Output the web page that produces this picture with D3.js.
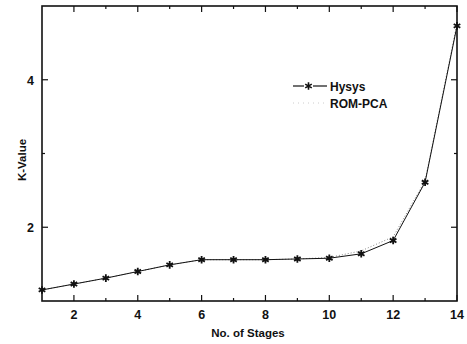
<!DOCTYPE html>
<html>
<head>
<meta charset="utf-8">
<script src="https://cdn.jsdelivr.net/npm/d3@7"></script>
<style>
  body { margin: 0; background: #fff; }
  text { font-family: "Liberation Sans", Arial, sans-serif; font-weight: bold; fill: #111; }
</style>
</head>
<body>
<svg id="canvas"></svg>
<script>
let svg = d3.select("#canvas");

svg.attr('width', 467)
    .attr('height', 344)

let stages = d3.range(1, 15);
let hysys = [1.15, 1.23, 1.31, 1.40, 1.49, 1.56, 1.56, 1.56, 1.57, 1.58, 1.64, 1.82, 2.61, 4.73];
let romPca = [1.15, 1.23, 1.31, 1.40, 1.49, 1.56, 1.56, 1.56, 1.57, 1.59, 1.68, 1.87, 2.63, 4.76];
let xTicks = [2, 4, 6, 8, 10, 12, 14];
let yTicks = [2, 4];

let pLeft = 42, pRight = 457, pTop = 6, pBottom = 301;

let x = d3.scaleLinear().domain([1, 14]).range([pLeft, pRight]);
let y = d3.scaleLinear().domain([1, 5]).range([pBottom, pTop]);

let g = svg.append('g');

// frame
g.append('rect')
  .attr('x', pLeft).attr('y', pTop)
  .attr('width', pRight - pLeft).attr('height', pBottom - pTop)
  .attr('fill', 'none').attr('stroke', '#111').attr('stroke-width', 1.6);

// ticks pointing inward, on all four sides
let allX = d3.range(2, 15);
let allY = d3.range(2, 5);
g.selectAll('.xtb').data(allX).join('line')
  .attr('x1', d => x(d)).attr('x2', d => x(d))
  .attr('y1', pBottom).attr('y2', d => pBottom - (d % 2 ? 3 : 6))
  .attr('stroke', '#111').attr('stroke-width', 1.2);
g.selectAll('.xtt').data(allX).join('line')
  .attr('x1', d => x(d)).attr('x2', d => x(d))
  .attr('y1', pTop).attr('y2', d => pTop + (d % 2 ? 3 : 6))
  .attr('stroke', '#111').attr('stroke-width', 1.2);
g.selectAll('.ytl').data(allY).join('line')
  .attr('y1', d => y(d)).attr('y2', d => y(d))
  .attr('x1', pLeft).attr('x2', d => pLeft + (d % 2 ? 3 : 6))
  .attr('stroke', '#111').attr('stroke-width', 1.2);
g.selectAll('.ytr').data(allY).join('line')
  .attr('y1', d => y(d)).attr('y2', d => y(d))
  .attr('x1', pRight).attr('x2', d => pRight - (d % 2 ? 3 : 6))
  .attr('stroke', '#111').attr('stroke-width', 1.2);

// tick labels
g.selectAll('.xl').data(xTicks).join('text')
  .attr('x', d => x(d)).attr('y', pBottom + 18)
  .attr('text-anchor', 'middle').attr('font-size', 12.5)
  .text(d => d);
g.selectAll('.yl').data(yTicks).join('text')
  .attr('x', pLeft - 8).attr('y', d => y(d) + 5)
  .attr('text-anchor', 'end').attr('font-size', 12.5)
  .text(d => d);

// axis titles
g.append('text')
  .attr('x', 248).attr('y', 337)
  .attr('text-anchor', 'middle').attr('font-size', 11.5)
  .text('No. of Stages');
g.append('text')
  .attr('transform', 'translate(26,160) rotate(-90)')
  .attr('text-anchor', 'middle').attr('font-size', 11.5)
  .text('K-Value');

let line = d3.line().x((d, i) => x(stages[i])).y(d => y(d));

// ROM-PCA dotted
g.append('path')
  .datum(romPca)
  .attr('d', line)
  .attr('fill', 'none').attr('stroke', '#888')
  .attr('stroke-width', 1).attr('stroke-dasharray', '1,2');

// Hysys solid with star markers
g.append('path')
  .datum(hysys)
  .attr('d', line)
  .attr('fill', 'none').attr('stroke', '#111').attr('stroke-width', 1);

let star = d3.symbol().type(d3.symbolAsterisk).size(40);
g.selectAll('.pt').data(hysys).join('path')
  .attr('transform', (d, i) => `translate(${x(stages[i])},${y(d)})`)
  .attr('d', star)
  .attr('fill', 'none').attr('stroke', '#111').attr('stroke-width', 1.8);

// legend
let lg = g.append('g').attr('transform', 'translate(293,86)');
lg.append('line').attr('x1', 0).attr('x2', 11).attr('y1', 0).attr('y2', 0)
  .attr('stroke', '#111').attr('stroke-width', 1.2);
lg.append('line').attr('x1', 20).attr('x2', 34).attr('y1', 0).attr('y2', 0)
  .attr('stroke', '#111').attr('stroke-width', 1.2);
lg.append('path').attr('transform', 'translate(15.5,0)').attr('d', star)
  .attr('fill', 'none').attr('stroke', '#111').attr('stroke-width', 1.6);
lg.append('text').attr('x', 37).attr('y', 5).attr('font-size', 12).text('Hysys');
lg.append('line').attr('x1', 0).attr('x2', 34).attr('y1', 17).attr('y2', 17)
  .attr('stroke', '#ccc').attr('stroke-width', 1).attr('stroke-dasharray', '1,4');
lg.append('text').attr('x', 37).attr('y', 22).attr('font-size', 12).text('ROM-PCA');
</script>
</body>
</html>
